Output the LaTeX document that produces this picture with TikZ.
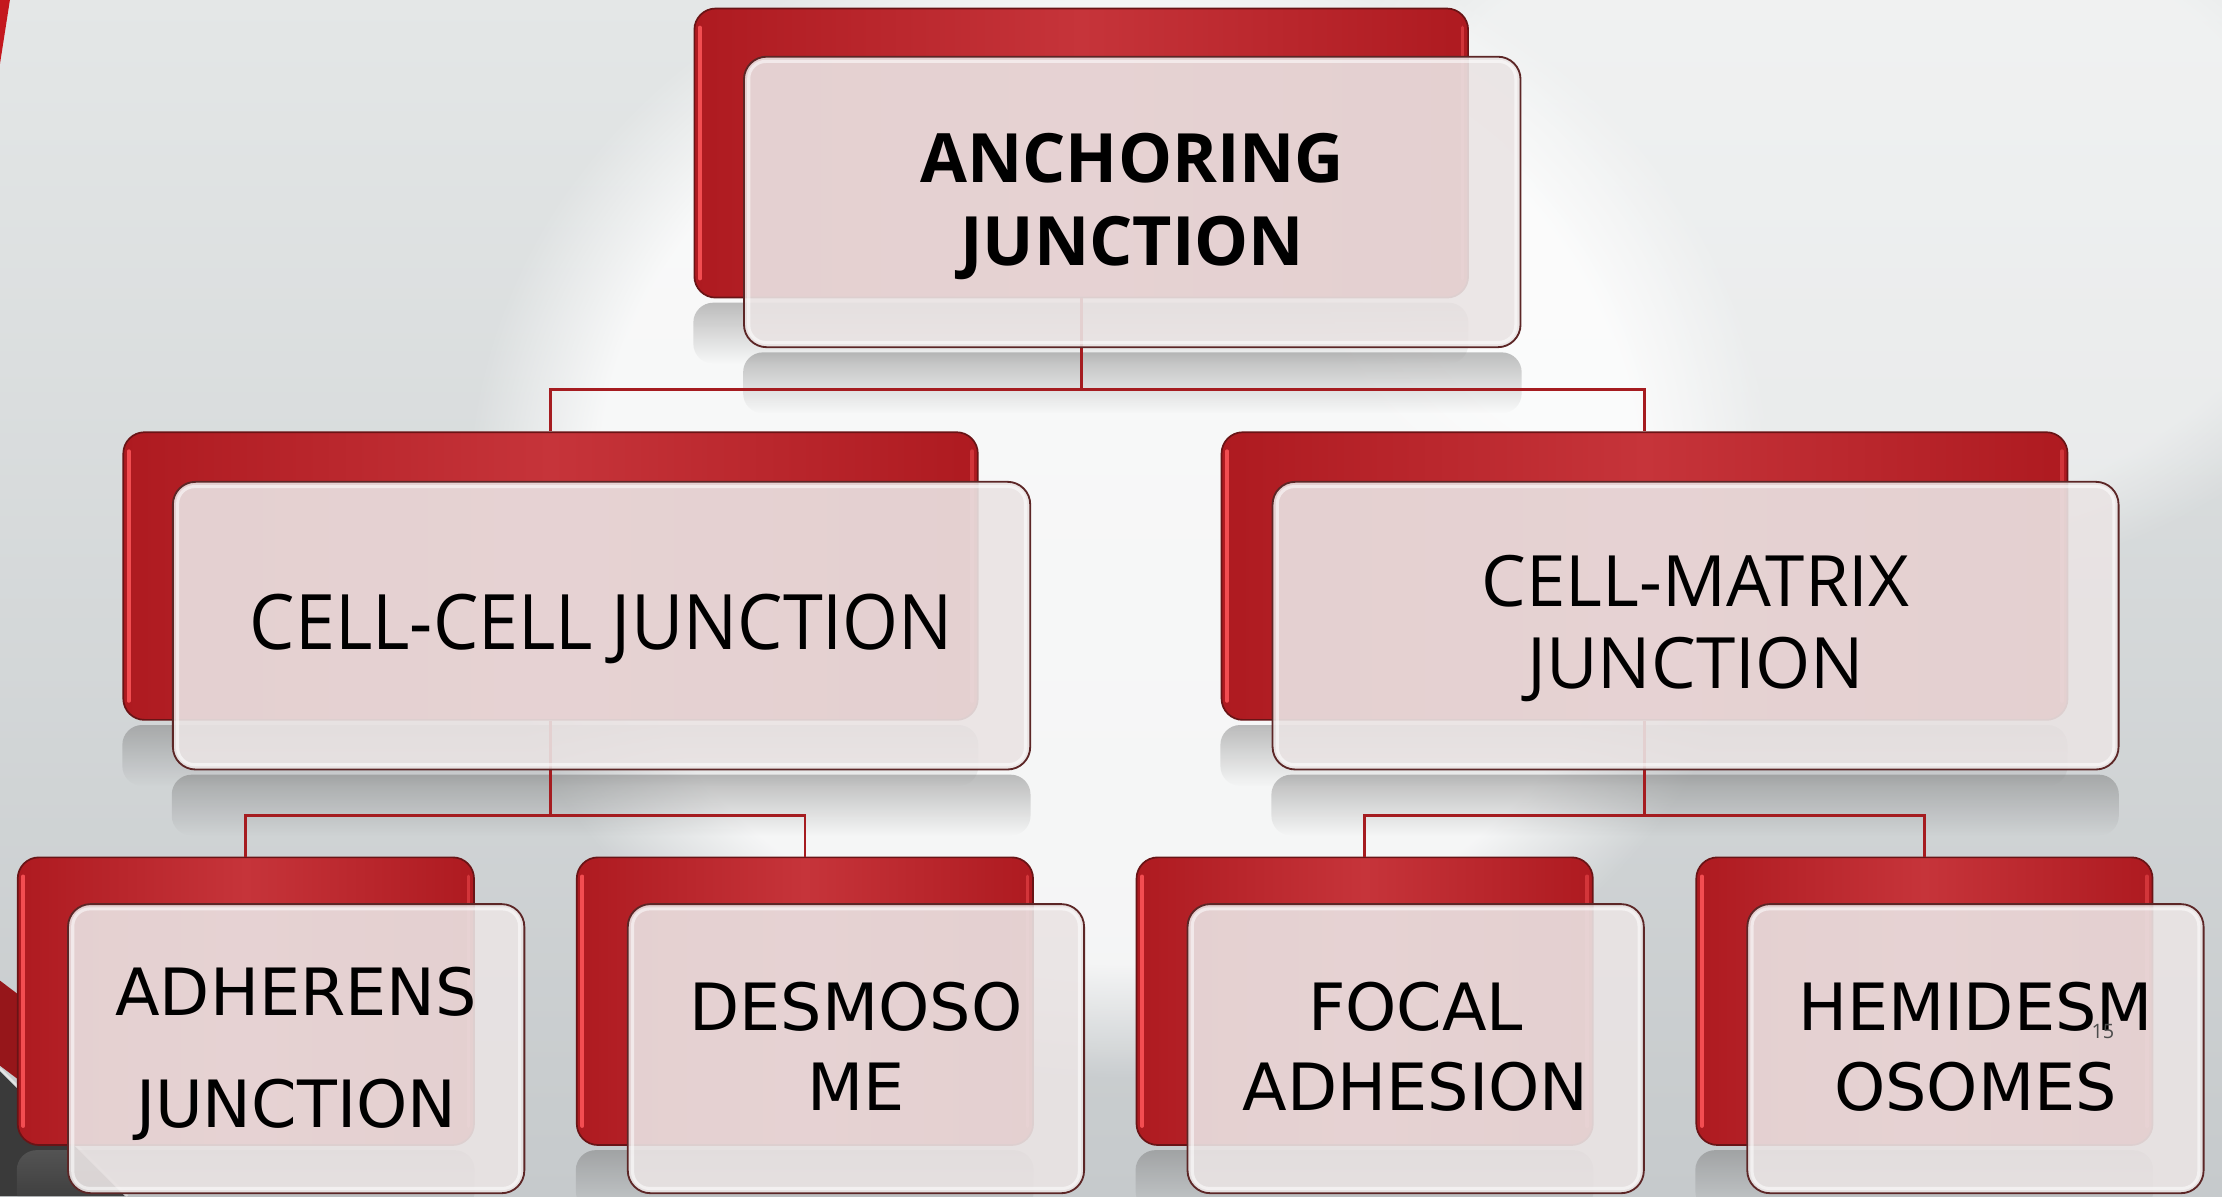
\documentclass[tikz,border=0pt]{standalone}
\usepackage{fontspec}
\setmainfont{Open Sans}
\newfontfamily\dejavu{DejaVu Sans}
\usetikzlibrary{fadings}

\definecolor{bgtop}{RGB}{228,231,231}
\definecolor{bgbot}{RGB}{198,202,204}
\definecolor{redmid}{RGB}{198,52,58}
\definecolor{rededge}{RGB}{174,26,32}
\definecolor{redline}{RGB}{105,20,22}
\definecolor{redhl}{RGB}{255,86,90}
\definecolor{glass}{RGB}{234,228,228}
\definecolor{glassedge}{RGB}{92,38,38}
\definecolor{linkred}{RGB}{165,28,32}
\definecolor{darkdeco}{RGB}{58,58,58}
\definecolor{decored}{RGB}{150,22,26}
\definecolor{slidered}{RGB}{196,24,30}

\pgfdeclarelayer{base}
\pgfdeclarelayer{under}
\pgfsetlayers{base,under,main}

\tikzset{
  backbox/.style={rectangle, rounded corners=15pt, draw=redline, line width=1.2pt,
    left color=rededge, right color=rededge, middle color=redmid, inner sep=0pt},
  glassbox/.style={rectangle, rounded corners=16pt, draw=glassedge, line width=1.3pt,
    fill=glass, fill opacity=0.9, text opacity=1, inner sep=0pt, align=center, text=black},
  link/.style={draw=linkred, line width=2pt},
  refl/.style={fill=black!55, fill opacity=0.45, path fading=south, rounded corners=14pt},
  shine/.style={draw=white, line width=2.2pt, draw opacity=0.55, rounded corners=12pt},
  hl/.style={draw=redhl, line width=2.6pt, line cap=round, draw opacity=0.85},
  toptext/.style={font=\bfseries\fontsize{48}{58}\selectfont},
  midtext/.style={font=\fontsize{50}{58}\selectfont},
  lowtext/.style={font=\dejavu\fontsize{46}{57}\selectfont},
}

% centred block of lines, set a little lower than the panel centre
\newcommand\panellines[2][4pt]{%
  \raisebox{-#1}[\height][\depth]{\begin{tabular}{@{}c@{}}#2\end{tabular}}}
% glossy highlights on the sides of a red panel
\newcommand\panelgloss[1]{%
  \draw[hl] ([shift={(4.5pt,-14pt)}]#1.north west) -- ([shift={(4.5pt,14pt)}]#1.south west);
  \draw[hl, draw opacity=0.45] ([shift={(-4.5pt,-14pt)}]#1.north east) -- ([shift={(-4.5pt,14pt)}]#1.south east);
}
% soft grey reflection under a panel
\newcommand\panelrefl[1]{%
  \path[refl] ([yshift=-3pt]#1.south west) rectangle ([yshift=-46pt]#1.south east);
}
% white inner rim of a glass panel
\newcommand\glassrim[1]{%
  \draw[shine] ([shift={(4pt,-4pt)}]#1.north west) rectangle ([shift={(-4pt,4pt)}]#1.south east);
}

\begin{document}
\begin{tikzpicture}[x=1pt,y=1pt]
\useasboundingbox (0,0) rectangle (1568,-844);

% ---------- slide background ----------
\begin{pgfonlayer}{base}
  \shade[top color=bgtop, bottom color=bgbot] (0,0) rectangle (1568,-844);
  \fill[white, fill opacity=0.8, path fading=circle with fuzzy edge 20 percent]
    (330,60) rectangle (1250,-760);
  \fill[white, fill opacity=0.45, path fading=circle with fuzzy edge 20 percent]
    (900,120) rectangle (1700,-420);
  % corner accents
  \fill[slidered] (0,0) -- (7,0) -- (0,-45) -- cycle;
  \fill[decored] (0,-692) -- (70,-745) -- (70,-805) -- (0,-752) -- cycle;
  \fill[darkdeco] (0,-756) -- (88,-844) -- (0,-844) -- cycle;
  \draw[white!80!gray, line width=1.5pt] (0,-754) -- (90,-844);
\end{pgfonlayer}

% ---------- red back panels ----------
\node[backbox, minimum width=546pt, minimum height=204pt] (b0) at (763,-108) {};
\node[backbox, minimum width=603pt, minimum height=203pt] (b1) at (388.5,-406.5) {};
\node[backbox, minimum width=597pt, minimum height=203pt] (b2) at (1160.5,-406.5) {};
\node[backbox, minimum width=322pt, minimum height=203pt] (b3) at (173.5,-706.5) {};
\node[backbox, minimum width=322pt, minimum height=203pt] (b4) at (568,-706.5) {};
\node[backbox, minimum width=322pt, minimum height=203pt] (b5) at (963,-706.5) {};
\node[backbox, minimum width=322pt, minimum height=203pt] (b6) at (1358,-706.5) {};
\foreach \b in {b0,b1,b2,b3,b4,b5,b6}{\panelgloss{\b}}

% ---------- connectors ----------
\draw[link] (b0.south) -- ++(0,-64) coordinate (j0) -| (b1.north);
\draw[link] (j0) -| (b2.north);
\draw[link] (b1.south) -- ++(0,-67) coordinate (j1) -| (b3.north);
\draw[link] (j1) -| (b4.north);
\draw[link] (b2.south) -- ++(0,-67) coordinate (j2) -| (b5.north);
\draw[link] (j2) -| (b6.north);

% ---------- glass front panels ----------
\node[glassbox, minimum width=548pt, minimum height=205pt, toptext] (f0) at (799,-142.5)
  {\panellines{ANCHORING\\JUNCTION}};
\node[glassbox, minimum width=605pt, minimum height=203pt,
  font=\fontsize{54}{58}\selectfont] (f1) at (424.5,-441.5)
  {\raisebox{-2pt}[\height][\depth]{\scalebox{0.94}[1]{CELL-CELL JUNCTION}}};
\node[glassbox, minimum width=597pt, minimum height=203pt, midtext] (f2) at (1196.5,-441.5)
  {\panellines{CELL-MATRIX\\JUNCTION}};
\node[glassbox, minimum width=322pt, minimum height=204pt,
  font=\dejavu\fontsize{46}{79}\selectfont] (f3) at (209,-740)
  {\panellines[0pt]{ADHERENS\\JUNCTION}};
\node[glassbox, minimum width=322pt, minimum height=204pt, lowtext] (f4) at (604,-740)
  {\panellines{DESMOSO\\ME}};
\node[glassbox, minimum width=322pt, minimum height=204pt, lowtext] (f5) at (999,-740)
  {\panellines{FOCAL\\ADHESION}};
\node[glassbox, minimum width=322pt, minimum height=204pt, lowtext] (f6) at (1394,-740)
  {\panellines{HEMIDESM\\OSOMES}};
\foreach \f in {f0,f1,f2,f3,f4,f5,f6}{\glassrim{\f}}

% ---------- reflections ----------
\begin{pgfonlayer}{under}
  \foreach \p in {b0,b1,b2,b3,b4,b5,b6,f0,f1,f2}{\panelrefl{\p}}
\end{pgfonlayer}

% ---------- slide number ----------
\node[text=black!70, font=\fontsize{14}{14}\selectfont] (pagenum) at (1484,-728) {15};
\end{tikzpicture}
\end{document}
